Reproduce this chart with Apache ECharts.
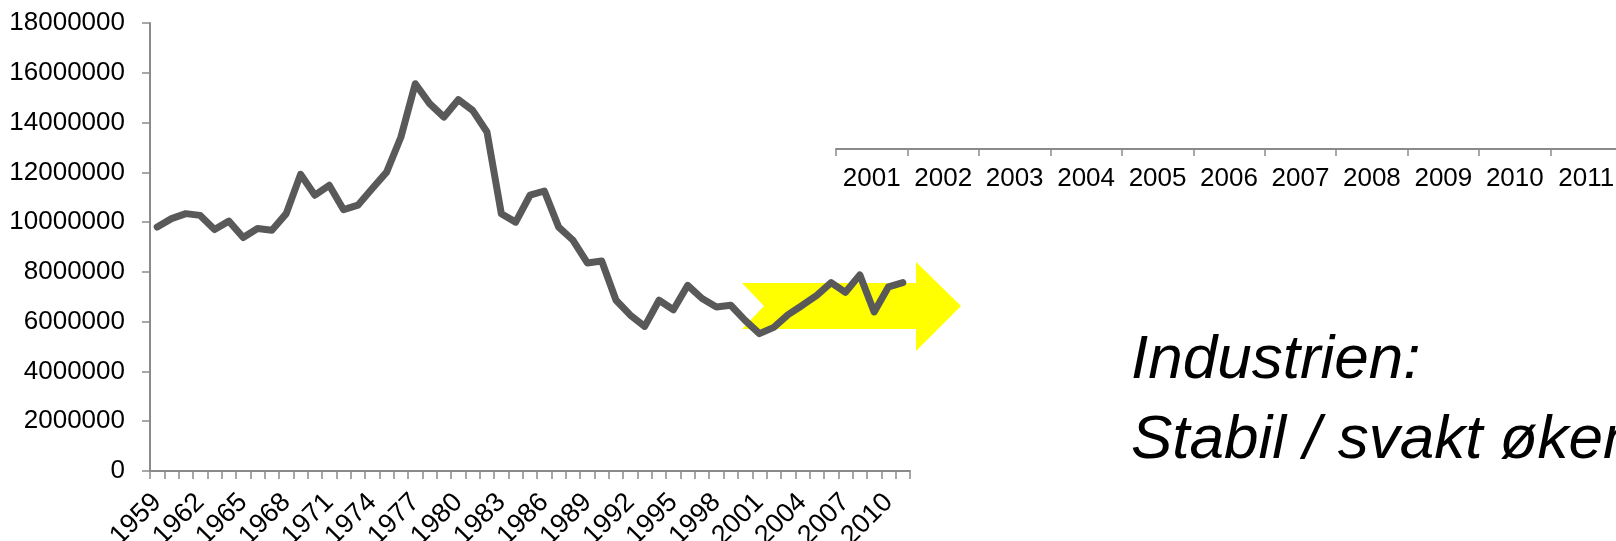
<!DOCTYPE html>
<html>
<head>
<meta charset="utf-8">
<script src="https://cdn.jsdelivr.net/npm/echarts@6/dist/echarts.min.js"></script>
<style>html,body{margin:0;padding:0;background:#fff;}#c{width:1616px;height:541px;}</style>
</head>
<body>
<div id="c"></div>
<script>
var years = [];
for (var y = 1959; y <= 2011; y++) years.push(String(y));
var values = [
  9800000, 10140000, 10340000, 10270000, 9700000, 10040000, 9380000, 9740000, 9670000, 10340000,
  11920000, 11080000, 11480000, 10500000, 10680000, 11350000, 12010000, 13420000, 15560000, 14760000,
  14220000, 14920000, 14490000, 13620000, 10340000, 10000000, 11080000, 11250000, 9800000, 9270000,
  8360000, 8440000, 6860000, 6260000, 5810000, 6860000, 6480000, 7460000, 6930000, 6590000,
  6660000, 6050000, 5520000, 5770000, 6280000, 6660000, 7060000, 7570000, 7180000, 7880000,
  6390000, 7400000, 7570000
];
var secondaryYears = ['2001','2002','2003','2004','2005','2006','2007','2008','2009','2010','2011'];
var yTicks = { min: 0, max: 18000000, interval: 2000000 };
var noteLines = ['Industrien:', 'Stabil / svakt økende'];

var axisGray = '#8a8a8a';
var font = 'Liberation Sans, Arial, sans-serif';
var chart = echarts.init(document.getElementById('c'), null, { renderer: 'canvas' });
chart.setOption({
  backgroundColor: '#ffffff',
  animation: false,
  grid: [
    { left: 150, top: 23, width: 760, height: 448, containLabel: false, outerBoundsMode: 'none' },
    { left: 836, top: 100, width: 786, height: 49, containLabel: false, outerBoundsMode: 'none' }
  ],
  xAxis: [
    {
      gridIndex: 0, type: 'category', data: years, boundaryGap: true,
      axisLine: { lineStyle: { color: axisGray, width: 2 } },
      axisTick: { show: true, interval: 0, length: 8, lineStyle: { color: axisGray, width: 1.5 } },
      axisLabel: { interval: 2, rotate: 45, margin: 27, color: '#000', fontSize: 27, fontFamily: font }
    },
    {
      gridIndex: 1, type: 'category', data: secondaryYears, boundaryGap: true,
      axisLine: { lineStyle: { color: axisGray, width: 2 } },
      axisTick: { show: true, interval: 0, length: 7, lineStyle: { color: axisGray, width: 1.5 } },
      axisLabel: { interval: 0, margin: 17, color: '#000', fontSize: 26, fontFamily: font }
    }
  ],
  yAxis: [
    {
      gridIndex: 0, type: 'value', min: yTicks.min, max: yTicks.max, interval: yTicks.interval,
      splitLine: { show: false },
      axisLine: { show: true, lineStyle: { color: axisGray, width: 2 } },
      axisTick: { show: true, length: 8, lineStyle: { color: axisGray, width: 1.5 } },
      axisLabel: { margin: 25, color: '#000', fontSize: 26, fontFamily: font,
        formatter: function (v) { return String(v); } }
    },
    { gridIndex: 1, type: 'value', show: false }
  ],
  graphic: [
    {
      type: 'polygon', z: 0,
      shape: { points: [[742, 283], [916, 283], [916, 262], [961, 306], [916, 351], [916, 329], [742, 329], [764, 306]] },
      style: { fill: '#ffff00' }
    },
    {
      type: 'text', z: 5, left: 1131, top: 330,
      style: { text: noteLines[0], font: 'italic 62px ' + font, fill: '#000' }
    },
    {
      type: 'text', z: 5, left: 1131, top: 410,
      style: { text: noteLines[1], font: 'italic 62px ' + font, fill: '#000' }
    }
  ],
  series: [
    {
      type: 'line', xAxisIndex: 0, yAxisIndex: 0, data: values, z: 3,
      symbol: 'none', lineStyle: { color: '#595959', width: 7, cap: 'round', join: 'round' }
    }
  ]
});
</script>
</body>
</html>
